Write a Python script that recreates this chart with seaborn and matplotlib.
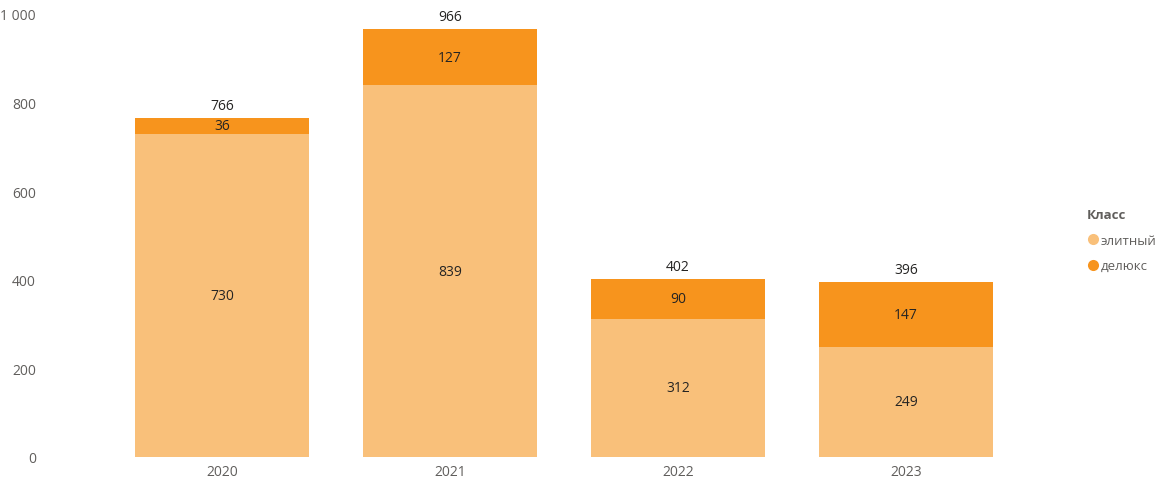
import pandas as pd
import matplotlib
matplotlib.use('Agg')
import matplotlib.pyplot as plt
from matplotlib.lines import Line2D
import seaborn as sns

years = ['2020', '2021', '2022', '2023']
elite = [730, 839, 312, 249]
deluxe = [36, 127, 90, 147]
totals = [e + d for e, d in zip(elite, deluxe)]
yticks = [0, 200, 400, 600, 800, 1000]
ytick_labels = ['0', '200', '400', '600', '800', '1\u00a0000']

light = '#F9C07A'
dark = '#F7941D'
grey = '#605E5C'

sns.set_theme(style='white')
plt.rcParams['font.family'] = ['Open Sans', 'DejaVu Sans']

df = pd.DataFrame({'year': years, 'elite': elite, 'deluxe': deluxe, 'total': totals})

fig = plt.figure(figsize=(11.58, 4.81), dpi=100)
ax = fig.add_axes([40 / 1158, 23 / 481, 1020 / 1158, 443 / 481])

# stacked: total bar underneath, elite on top of it
sns.barplot(data=df, x='year', y='total', color=dark, width=0.763, ax=ax,
            saturation=1, edgecolor='none')
sns.barplot(data=df, x='year', y='elite', color=light, width=0.763, ax=ax,
            saturation=1, edgecolor='none')

ax.set_xlim((40 - 222) / 228, (1060 - 222) / 228)
ax.set_ylim(0, 1000)
ax.set_yticks(yticks)
ax.set_yticklabels(ytick_labels)
ax.set_xlabel('')
ax.set_ylabel('')
for s in ax.spines.values():
    s.set_visible(False)
ax.tick_params(axis='y', length=0, pad=3, labelsize=10, labelcolor=grey)
ax.tick_params(axis='x', length=0, pad=5, labelsize=10, labelcolor=grey)
for lbl in ax.get_yticklabels():
    lbl.set_horizontalalignment('right')

for i in range(len(years)):
    ax.text(i, elite[i] / 2, str(elite[i]), ha='center', va='center',
            fontsize=10, color='#252423')
    ax.text(i, elite[i] + deluxe[i] / 2, str(deluxe[i]), ha='center', va='center',
            fontsize=10, color='#252423')
    ax.text(i, totals[i] + 28, str(totals[i]), ha='center', va='center',
            fontsize=10, color='#252423', clip_on=False)

handles = [Line2D([], [], marker='o', linestyle='', markersize=8,
                  markerfacecolor=c, markeredgecolor='none') for c in (light, dark)]
leg = fig.legend(handles, ['элитный', 'делюкс'], title='Класс',
                 loc='upper left', bbox_to_anchor=(1081 / 1158, 1 - 204 / 481),
                 frameon=False, fontsize=9.5, title_fontsize=9.5,
                 handletextpad=0.1, handlelength=1.0, labelspacing=0.95,
                 borderaxespad=0, alignment='left')
leg.get_title().set_fontweight('bold')
leg.get_title().set_color(grey)
for t in leg.get_texts():
    t.set_color(grey)

fig.savefig('out.png', dpi=100)
